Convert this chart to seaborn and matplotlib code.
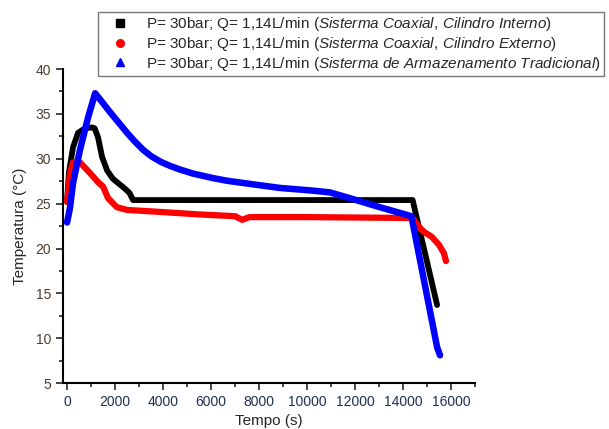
import matplotlib
matplotlib.use('Agg')
import matplotlib.pyplot as plt
from matplotlib.lines import Line2D
from matplotlib.ticker import MultipleLocator
import seaborn as sns
import pandas as pd

# values (time in s, temperature in degC)
t_interno = [0, 80, 250, 460, 750, 1040, 1150, 1290, 1460, 1670, 1900, 2125, 2400, 2600, 2750, 14400, 15420]
T_interno = [25.2, 28.5, 31.3, 32.9, 33.4, 33.5, 33.4, 32.4, 30.2, 28.7, 27.8, 27.3, 26.7, 26.2, 25.4, 25.4, 13.7]

t_externo = [0, 125, 250, 540, 960, 1290, 1500, 1710, 2080, 2500, 3750, 5500, 7000, 7300, 7600, 10000,
             14400, 14700, 14900, 15200, 15500, 15700, 15790]
T_externo = [25.2, 28.4, 29.6, 29.6, 28.4, 27.4, 26.9, 25.6, 24.6, 24.3, 24.1, 23.8, 23.6, 23.2, 23.5, 23.5,
             23.4, 22.3, 21.8, 21.3, 20.4, 19.5, 18.6]

t_trad = [0, 120, 250, 540, 875, 1170, 1500, 1790, 2100, 2500, 2800, 3170, 3500, 3875, 4300, 4710, 5250,
          6080, 6670, 7900, 8875, 10250, 10960, 11670, 13040, 14350, 15420, 15540]
T_trad = [22.9, 24.5, 27.3, 31.0, 34.6, 37.3, 36.2, 35.2, 34.2, 32.9, 32.0, 31.0, 30.3, 29.7, 29.2, 28.8, 28.35,
          27.85, 27.55, 27.1, 26.75, 26.45, 26.25, 25.7, 24.6, 23.6, 9.0, 8.1]

labels = [
    r'P= 30bar; Q= 1,14L/min $\mathit{(Sisterma\ Coaxial,\!\ Cilindro\ Interno)}$',
    r'P= 30bar; Q= 1,14L/min $\mathit{(Sisterma\ Coaxial,\!\ Cilindro\ Externo)}$',
    r'P= 30bar; Q= 1,14L/min $\mathit{(Sisterma\ de\ Armazenamento\ Tradicional)}$',
]
colors = ['black', 'red', 'blue']
markers = ['s', 'o', '^']


def main():
    sns.set_style('ticks')
    plt.rcParams['font.family'] = ['Liberation Sans', 'DejaVu Sans']
    plt.rcParams['mathtext.fontset'] = 'custom'
    plt.rcParams['mathtext.rm'] = 'Liberation Sans'
    plt.rcParams['mathtext.it'] = 'Liberation Sans:italic'

    fig = plt.figure(figsize=(6.09, 4.29), dpi=100)
    ax = fig.add_axes([0.1034, 0.107, 0.6766, 0.732])

    series = [(t_interno, T_interno), (t_externo, T_externo), (t_trad, T_trad)]
    for (t, T), c, lw in zip(series, colors, [4.2, 4.5, 4.7]):
        df = pd.DataFrame({'Tempo': t, 'Temp': T})
        sns.lineplot(data=df, x='Tempo', y='Temp', color=c, linewidth=lw,
                     solid_capstyle='round', solid_joinstyle='round', sort=False, ax=ax)

    ax.set_xlim(-170, 17000)
    ax.set_ylim(5, 40)
    ax.xaxis.set_major_locator(MultipleLocator(2000))
    ax.xaxis.set_minor_locator(MultipleLocator(1000))
    ax.yaxis.set_major_locator(MultipleLocator(5))
    ax.yaxis.set_minor_locator(MultipleLocator(2.5))
    ax.tick_params(which='major', length=5, width=1.2, direction='out', labelsize=10)
    ax.tick_params(which='minor', length=3, width=1.2, direction='out')
    for lab in ax.get_yticklabels():
        lab.set_color('#4d3b2a')
    for lab in ax.get_xticklabels():
        lab.set_color('#1f2f55')

    sns.despine(ax=ax)
    for s in ['left', 'bottom']:
        ax.spines[s].set_linewidth(1.5)
        ax.spines[s].set_color('black')

    ax.set_xlabel('Tempo (s)', fontsize=11, labelpad=4)
    ax.set_ylabel('Temperatura (°C)', fontsize=11, labelpad=6)

    handles = [Line2D([], [], linestyle='none', marker=m, color=c, markersize=5.5)
               for m, c in zip(markers, colors)]
    leg = fig.legend(handles, labels, loc='upper right', bbox_to_anchor=(604 / 609, 1 - 12 / 429),
                     bbox_transform=fig.transFigure, borderaxespad=0, fontsize=11,
                     frameon=True, fancybox=False, edgecolor='#555555', labelspacing=0.12,
                     handlelength=2.5, handletextpad=0.45, borderpad=0.2)
    leg.get_frame().set_linewidth(1.0)

    fig.savefig('out.png', dpi=100)


if __name__ == '__main__':
    main()
